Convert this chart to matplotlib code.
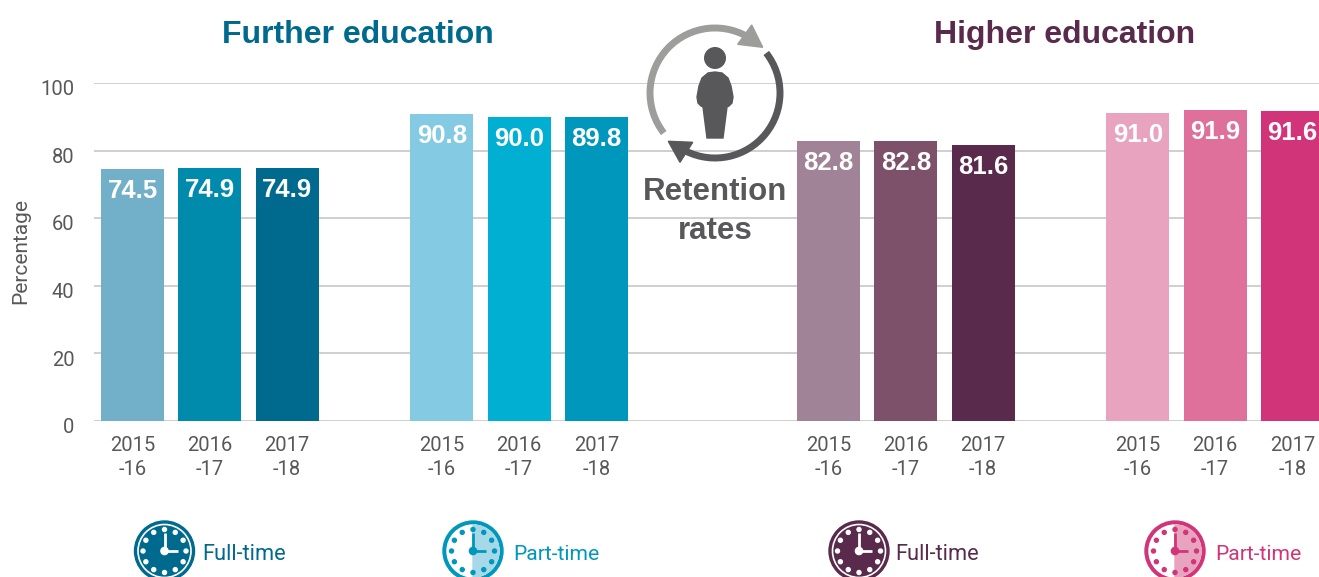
import matplotlib
matplotlib.use('Agg')
import matplotlib.pyplot as plt
import numpy as np
from matplotlib.patches import Circle, Wedge, Polygon, Arc
from matplotlib.transforms import ScaledTranslation

plt.rcParams['font.family'] = ['Roboto', 'Liberation Sans', 'DejaVu Sans']
BOLD = ['Liberation Sans', 'DejaVu Sans']

W, H = 1319, 577

# data
fe_full = [74.5, 74.9, 74.9]
fe_part = [90.8, 90.0, 89.8]
he_full = [82.8, 82.8, 81.6]
he_part = [91.0, 91.9, 91.6]
years = ['2015\n-16', '2016\n-17', '2017\n-18']
yticks = [0, 20, 40, 60, 80, 100]

fe_full_cols = ['#72afc8', '#008bac', '#006a8e']
fe_part_cols = ['#83cae2', '#00afd1', '#0097bd']
he_full_cols = ['#a08397', '#7d5169', '#592a4c']
he_part_cols = ['#e8a4bf', '#de709b', '#d13478']

GREY = '#58585a'
GRID = '#cfcfcf'

fig = plt.figure(figsize=(W / 100, H / 100), dpi=100)

# main axes, placed by pixel
ax = fig.add_axes([94 / W, 1 - 421 / H, (W - 94) / W, (421 - 83) / H])
ax.set_xlim(-0.498, 15.343)
ax.set_ylim(0, 100)
for s in ax.spines.values():
    s.set_visible(False)
ax.set_yticks(yticks)
ax.yaxis.grid(True, color=GRID, lw=1.4)
ax.set_axisbelow(True)
ax.tick_params(axis='y', length=0, pad=14, labelsize=14.5, labelcolor=GREY)
up = ScaledTranslation(0, 2 / 72, fig.dpi_scale_trans)
for lab in ax.get_yticklabels():
    lab.set_va('top')
    lab.set_transform(lab.get_transform() + up)

starts = [0, 4, 9, 13]
groups = [(fe_full, fe_full_cols), (fe_part, fe_part_cols),
          (he_full, he_full_cols), (he_part, he_part_cols)]
xpos = []
xlabs = []
for st, (vals, cols) in zip(starts, groups):
    xs = [st + i for i in range(3)]
    ax.bar(xs, vals, width=0.815, color=cols, zorder=2)
    for x, v in zip(xs, vals):
        ax.annotate('%.1f' % v, xy=(x, v), xytext=(0, -7), textcoords='offset points',
                    ha='center', va='top', color='white', fontsize=18.5,
                    fontweight='bold', family=BOLD, zorder=3)
    xpos += xs
    xlabs += years
ax.set_xticks(xpos)
ax.set_xticklabels(xlabs, fontsize=14.5, color=GREY, linespacing=1.35)
ax.tick_params(axis='x', length=0, pad=10.5)

# overlay in pixel coordinates for titles and icons
ov = fig.add_axes([0, 0, 1, 1])
ov.set_xlim(0, W)
ov.set_ylim(H, 0)
ov.axis('off')
ov.patch.set_alpha(0)

ov.text(21, 251, 'Percentage', color=GREY, fontsize=15, rotation=90, ha='center', va='center')
ov.text(358, 35, 'Further education', color='#006a8e', fontsize=23, fontweight='bold',
        family=BOLD, ha='center', va='center')
ov.text(1065, 35, 'Higher education', color='#592a4c', fontsize=23, fontweight='bold',
        family=BOLD, ha='center', va='center')
ov.text(715, 192, 'Retention', color=GREY, fontsize=22.5, fontweight='bold', family=BOLD, ha='center', va='center')
ov.text(715, 231, 'rates', color=GREY, fontsize=22.5, fontweight='bold', family=BOLD, ha='center', va='center')

# retention ring (y axis is flipped, so arc angles run clockwise on screen)
cx, cy, r = 715, 93, 65
ov.add_patch(Arc((cx, cy), 2 * r, 2 * r, theta1=142, theta2=305, color='#9d9d9c', lw=5, capstyle='butt'))
ov.add_patch(Polygon([(751.7, 25), (762.7, 47.3), (737.7, 44.3)], color='#9d9d9c'))
ov.add_patch(Arc((cx, cy), 2 * r, 2 * r, theta1=-38, theta2=116, color=GREY, lw=5, capstyle='butt'))
ov.add_patch(Polygon([(668.3, 141.3), (692.7, 142.3), (680, 162.3)], color=GREY))

# person
ov.add_patch(Circle((715, 58), 10.3, color=GREY))
ov.add_patch(Polygon([(715, 72), (722, 73), (728, 78), (731, 86), (733, 97), (732, 103), (729, 106),
                     (727, 107), (723, 138), (707, 138), (703, 107), (701, 106), (698, 103),
                     (697, 97), (699, 86), (702, 78), (708, 73)], color=GREY))


def clock(x, col, part=False, light=None):
    y = 551
    if part:
        ov.add_patch(Circle((x, y), 30, color=col))
        ov.add_patch(Circle((x, y), 26, color='white'))
        ov.add_patch(Wedge((x, y), 26, -90, 90, color=light))
        dot = col
    else:
        ov.add_patch(Circle((x, y), 30, color=col))
        ov.add_patch(Circle((x, y), 26.5, fill=False, ec='white', lw=1.2))
        dot = 'white'
    for a in np.arange(0, 360, 30):
        ov.add_patch(Circle((x + 21.5 * np.cos(np.radians(a)), y + 21.5 * np.sin(np.radians(a))), 2, color=dot))
    ov.plot([x, x], [y, y - 18], color=dot, lw=2, solid_capstyle='butt')
    ov.plot([x, x + 13], [y, y], color=dot, lw=2, solid_capstyle='butt')
    ov.add_patch(Circle((x, y), 3.6, color=dot))


clock(164.5, '#006a8e')
clock(473, '#0097bd', part=True, light='#a6d8e8')
clock(859, '#592a4c')
clock(1175, '#d13478', part=True, light='#e8a4bf')

ov.text(202, 555, 'Full-time', color='#006a8e', fontsize=15.7, va='center')
ov.text(513, 555, 'Part-time', color='#0097bd', fontsize=15.2, va='center')
ov.text(895, 555, 'Full-time', color='#592a4c', fontsize=15.7, va='center')
ov.text(1215, 555, 'Part-time', color='#d13478', fontsize=15.2, va='center')

fig.savefig('out.png', dpi=100)
